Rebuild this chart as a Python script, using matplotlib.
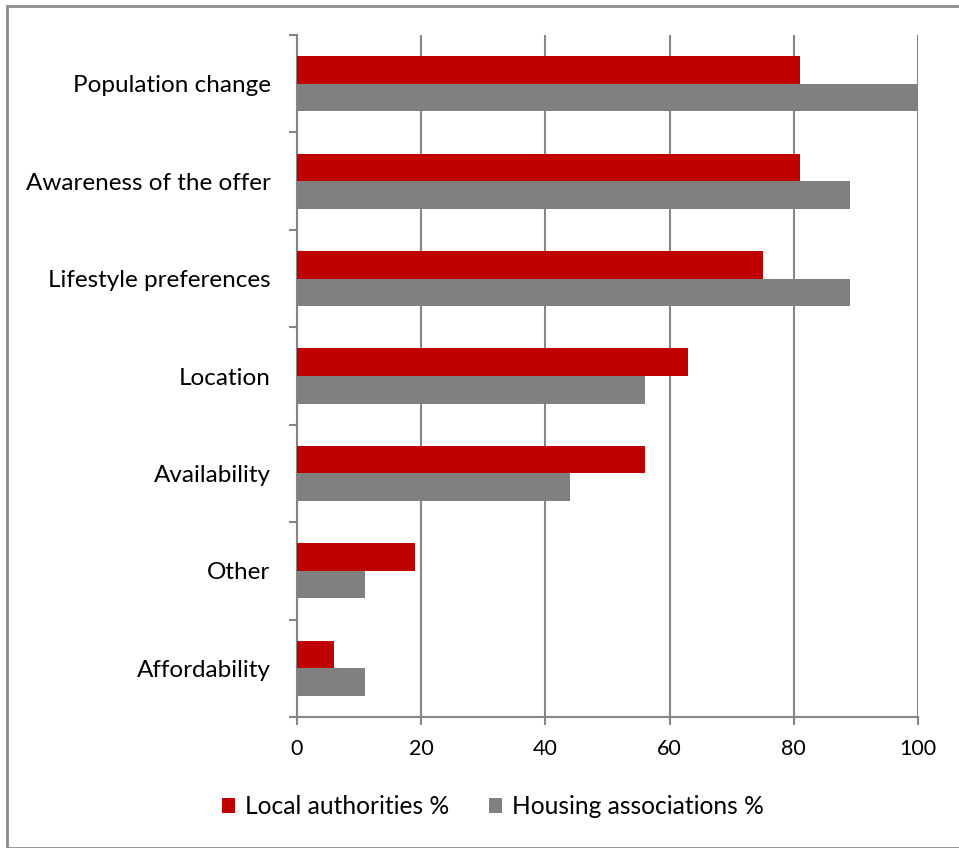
import matplotlib
matplotlib.use("Agg")
import matplotlib.pyplot as plt
from matplotlib.patches import Rectangle
import numpy as np

plt.rcParams['font.family'] = ['Lato', 'DejaVu Sans']

categories = ["Population change", "Awareness of the offer", "Lifestyle preferences",
              "Location", "Availability", "Other", "Affordability"]
local_authorities = [81, 81, 75, 63, 56, 19, 6]
housing_associations = [100, 89, 89, 56, 44, 11, 11]
xticks = [0, 20, 40, 60, 80, 100]

red = "#C00000"
gray = "#808080"
axis_gray = "#868686"

fig = plt.figure(figsize=(9.59, 8.48), dpi=100)
ax = fig.add_axes([297/959, 1-717/848, (918-297)/959, (717-35)/848])

n = len(categories)
y = np.arange(n)[::-1].astype(float)
h = 0.283
ax.barh(y + h/2, local_authorities, height=h, color=red, label="Local authorities %", zorder=3)
ax.barh(y - h/2, housing_associations, height=h, color=gray, label="Housing associations %", zorder=3)

ax.set_xlim(0, 100)
ax.set_ylim(-0.5, n - 0.5)
ax.set_xticks(xticks)
ax.set_xticklabels([str(v) for v in xticks], fontsize=15.5)
ax.set_yticks(y)
ax.set_yticklabels(categories, fontsize=17.5)
ax.tick_params(axis='y', length=0, pad=19)
ax.set_yticks(np.arange(-0.5, n, 1.0), minor=True)
ax.tick_params(axis='y', which='minor', length=6, color=axis_gray, width=1.5)
ax.tick_params(axis='x', length=6, color=axis_gray, width=1.5, pad=10)

ax.grid(axis='x', color=axis_gray, linewidth=1.5, zorder=0)
for s in ['top', 'right']:
    ax.spines[s].set_visible(False)
for s in ['left', 'bottom']:
    ax.spines[s].set_color(axis_gray)
    ax.spines[s].set_linewidth(1.5)

leg = fig.legend(loc='center', bbox_to_anchor=(493/959, 1-807/848), ncol=2, frameon=False,
                 fontsize=17.7, handlelength=0.55, handleheight=0.55, handletextpad=0.4,
                 columnspacing=1.6)

fig.patches.append(Rectangle((7/959, 0), 1, 1-6/848, transform=fig.transFigure,
                             fill=False, edgecolor="#8c8c8c", linewidth=2))

fig.savefig("out.png", dpi=100)
